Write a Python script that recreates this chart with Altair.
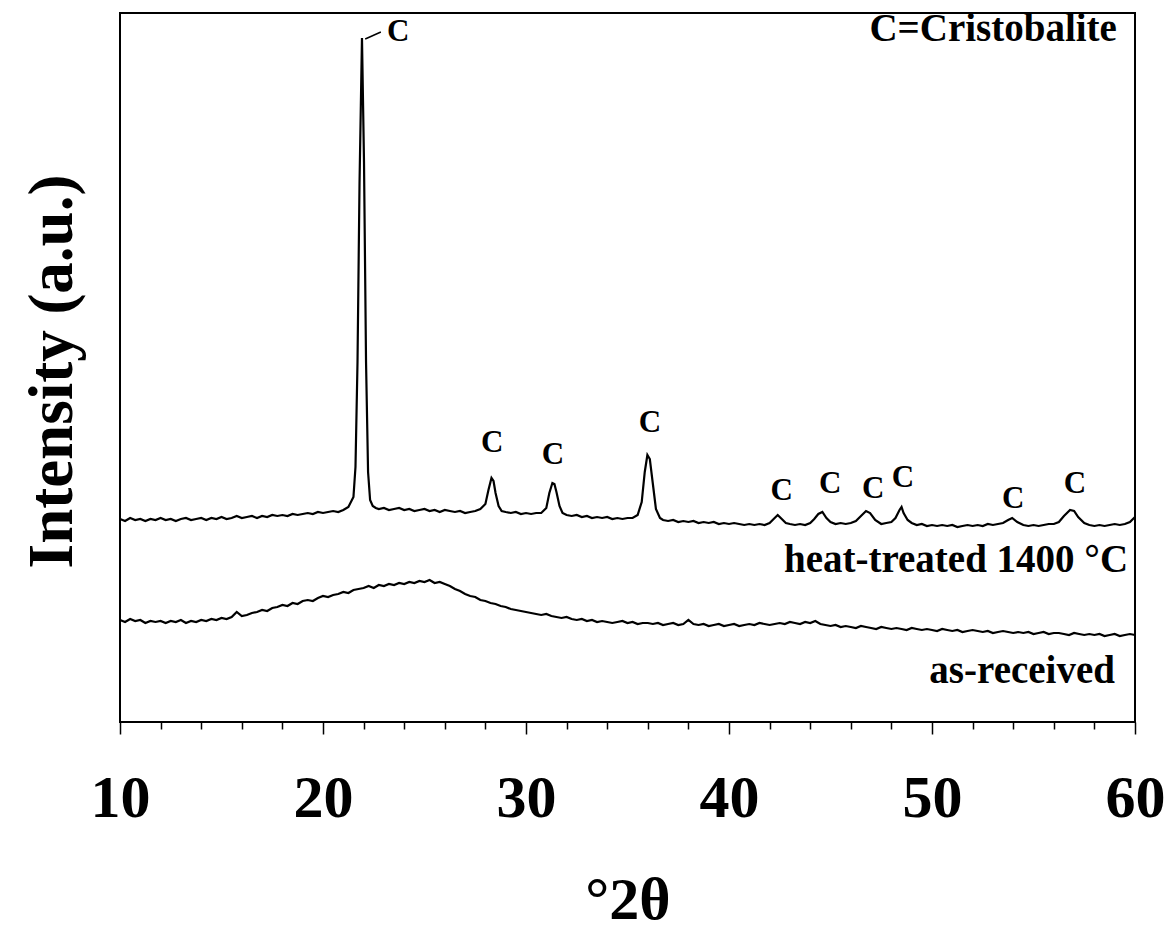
import altair as alt
import pandas as pd

# ---- heat-treated 1400 °C pattern: (2theta, intensity a.u.) ----
heat_treated = [
    (10.0, 203), (10.25, 201), (10.5, 204), (10.75, 202), (11.0, 203), (11.25, 201), (11.5, 203), (11.75, 202),
    (12.0, 204), (12.25, 202), (12.5, 203), (12.75, 201), (13.0, 203), (13.25, 204), (13.5, 202), (13.75, 203),
    (14.0, 204), (14.25, 202), (14.5, 204), (14.75, 203), (15.0, 205), (15.25, 203), (15.5, 204), (15.75, 206),
    (16.0, 204), (16.25, 205), (16.5, 206), (16.75, 204), (17.0, 206), (17.25, 205), (17.5, 207), (17.75, 206),
    (18.0, 207), (18.25, 206), (18.5, 208), (18.75, 207), (19.0, 208), (19.25, 209), (19.5, 208), (19.75, 210),
    (20.0, 209), (20.25, 210), (20.5, 211), (20.75, 210), (21.0, 212), (21.25, 215), (21.5, 225), (21.6, 255),
    (21.7, 360), (21.8, 540), (21.92, 684), (22.02, 560), (22.12, 360), (22.22, 250), (22.32, 222),
    (22.45, 216), (22.6, 214), (22.75, 213), (23.0, 214), (23.25, 212), (23.5, 213), (23.75, 214),
    (24.0, 212), (24.25, 213), (24.5, 211), (24.75, 212), (25.0, 213), (25.25, 211), (25.5, 212), (25.75, 210),
    (26.0, 212), (26.25, 211), (26.5, 210), (26.75, 211), (27.0, 209), (27.25, 210), (27.5, 211), (27.75, 213),
    (28.0, 218), (28.15, 232), (28.3, 244), (28.4, 241), (28.5, 229), (28.65, 216), (28.8, 211), (29.0, 210),
    (29.25, 209), (29.5, 210), (29.75, 208), (30.0, 209), (30.25, 208), (30.5, 209), (30.75, 209), (31.0, 214),
    (31.15, 229), (31.3, 239), (31.4, 238), (31.5, 230), (31.65, 216), (31.8, 209), (32.0, 207), (32.25, 206),
    (32.5, 207), (32.75, 205), (33.0, 206), (33.25, 204), (33.5, 205), (33.75, 204), (34.0, 205), (34.25, 203),
    (34.5, 204), (34.75, 203), (35.0, 204), (35.25, 204), (35.5, 207), (35.7, 220), (35.85, 250), (35.98, 267),
    (36.1, 263), (36.25, 238), (36.4, 213), (36.6, 204), (36.75, 202), (37.0, 201), (37.25, 202), (37.5, 200),
    (37.75, 201), (38.0, 200), (38.25, 201), (38.5, 199), (38.75, 200), (39.0, 199), (39.25, 200), (39.5, 198),
    (39.75, 199), (40.0, 198), (40.25, 199), (40.5, 198), (40.75, 197), (41.0, 198), (41.25, 197), (41.5, 198),
    (41.75, 197), (42.0, 199), (42.2, 203), (42.4, 207), (42.6, 203), (42.8, 199), (43.0, 198), (43.25, 197),
    (43.5, 198), (43.75, 197), (44.0, 199), (44.2, 203), (44.4, 208), (44.6, 210), (44.8, 204), (45.0, 200),
    (45.25, 198), (45.5, 199), (45.75, 198), (46.0, 199), (46.25, 201), (46.5, 206), (46.75, 211), (46.95, 209),
    (47.2, 202), (47.5, 198), (47.75, 199), (48.0, 200), (48.2, 204), (48.4, 212), (48.5, 215), (48.6, 209),
    (48.8, 202), (49.0, 199), (49.25, 197), (49.5, 198), (49.75, 196), (50.0, 197), (50.25, 196), (50.5, 197),
    (50.75, 196), (51.0, 197), (51.25, 195), (51.5, 196), (51.75, 197), (52.0, 196), (52.25, 197), (52.5, 196),
    (52.75, 198), (53.0, 197), (53.25, 198), (53.5, 199), (53.75, 202), (53.95, 204), (54.2, 200), (54.5, 197),
    (54.75, 196), (55.0, 197), (55.25, 196), (55.5, 197), (55.75, 198), (56.0, 198), (56.25, 200), (56.5, 206),
    (56.8, 212), (57.0, 211), (57.2, 205), (57.5, 199), (57.75, 197), (58.0, 196), (58.25, 197), (58.5, 196),
    (58.75, 197), (59.0, 198), (59.25, 197), (59.5, 198), (59.75, 200), (60.0, 205),
]

# ---- as-received pattern: scan 10..60 deg, step 0.25 deg ----
as_received_start = 10.0
as_received_step = 0.25
as_received = [
    102, 100, 103, 101, 102, 99, 101, 100, 101,
    99, 101, 100, 102, 99, 101, 100, 102,
    101, 103, 102, 104, 103, 105, 110, 106,
    107, 109, 110, 112, 111, 114, 115, 117,
    116, 119, 118, 121, 122, 121, 124, 126,
    125, 127, 128, 130, 129, 132, 133, 134,
    136, 134, 137, 136, 138, 137, 139, 138,
    140, 139, 141, 140, 142, 139, 140, 138,
    136, 133, 131, 128, 126, 125, 122, 121,
    119, 118, 116, 115, 113, 112, 111, 110,
    109, 108, 107, 108, 106, 105, 104, 105,
    103, 102, 103, 101, 102, 100, 101, 100,
    99, 100, 101, 99, 100, 98, 99, 99,
    98, 99, 97, 98, 99, 97, 98, 102,
    98, 97, 98, 96, 97, 98, 96, 97,
    98, 96, 97, 98, 97, 99, 98, 97,
    98, 99, 98, 100, 99, 98, 100, 99,
    101, 98, 97, 96, 97, 95, 96, 95,
    94, 96, 95, 94, 93, 95, 94, 93,
    94, 93, 92, 94, 93, 92, 93, 92,
    91, 93, 92, 91, 92, 90, 91, 92,
    91, 90, 91, 89, 90, 91, 90, 89,
    90, 89, 90, 88, 89, 90, 88, 89,
    89, 88, 87, 89, 88, 87, 88, 87,
    88, 86, 87, 88, 86, 87, 88, 87,
]

# ---- cristobalite peak labels ----
peak_label_2theta = [23.7, 28.33, 31.33, 36.1, 42.6, 44.98, 47.1, 48.57, 54.0, 57.04]
peak_label_intensity = [690, 279, 267, 299, 231, 238, 233, 244, 223, 238]
peak_label_text = ["C"] * len(peak_label_2theta)

# leader line for the main peak label
leader_2theta = [22.08, 22.85]
leader_intensity = [683, 690]

# annotations
note_text = ["C=Cristobalite", "heat-treated 1400 °C", "as-received"]
note_2theta = [59.11, 59.66, 59.01]
note_intensity = [681, 150, 39]

tick_values = [10, 12, 14, 16, 18, 20, 22, 24, 26, 28, 30, 32, 34, 36, 38, 40,
               42, 44, 46, 48, 50, 52, 54, 56, 58, 60]

FONT = "Liberation Serif"

rows = [{"tt": t, "I": v, "series": "heat-treated 1400 °C"} for t, v in heat_treated]
rows += [{"tt": as_received_start + i * as_received_step, "I": v, "series": "as-received"}
         for i, v in enumerate(as_received)]
lines_df = pd.DataFrame(rows)

labels_df = pd.DataFrame({"tt": peak_label_2theta, "I": peak_label_intensity, "t": peak_label_text})
leader_df = pd.DataFrame({"tt": [leader_2theta[0]], "tt2": [leader_2theta[1]],
                          "I": [leader_intensity[0]], "I2": [leader_intensity[1]]})
notes_df = pd.DataFrame({"tt": note_2theta, "I": note_intensity, "t": note_text})

xscale = alt.Scale(domain=[10, 60], nice=False, zero=False)
yscale = alt.Scale(domain=[0, 709], nice=False, zero=True)

x_enc = alt.X(
    "tt:Q", scale=xscale,
    axis=alt.Axis(
        values=tick_values, orient="bottom", domain=False, grid=False,
        tickSize={"condition": {"test": "datum.value % 10 === 0", "value": 12}, "value": 7},
        tickWidth=1.5, tickColor="black",
        labelExpr="datum.value % 10 === 0 ? datum.label : ''",
        labelFont=FONT, labelFontSize=60, labelFontWeight="bold", labelColor="black",
        labelBaseline="alphabetic", labelPadding=82, labelFlush=False, labelOverlap=False,
        title="°2θ", titleFont=FONT, titleFontSize=60, titleFontWeight="bold",
        titleColor="black", titleBaseline="alphabetic", titleY=196,
    ),
)
y_enc = alt.Y(
    "I:Q", scale=yscale,
    axis=alt.Axis(
        domain=False, ticks=False, labels=False, grid=False,
        title="Intensity (a.u.)", titleFont=FONT, titleFontSize=63, titleFontWeight="bold",
        titleColor="black", titleAngle=270, titleBaseline="alphabetic", titleAlign="center",
        titleX=-49, titleY=358,
    ),
)

lines = alt.Chart(lines_df).mark_line(color="black", strokeWidth=2.2, interpolate="linear").encode(
    x=x_enc, y=y_enc, detail="series:N"
)

peak_labels = alt.Chart(labels_df).mark_text(
    font=FONT, fontSize=31, fontWeight="bold", color="black", align="center", baseline="middle"
).encode(x=alt.X("tt:Q"), y=alt.Y("I:Q"), text="t:N")

leader = alt.Chart(leader_df).mark_rule(color="black", strokeWidth=1.5).encode(
    x=alt.X("tt:Q"), x2="tt2:Q", y=alt.Y("I:Q"), y2="I2:Q"
)

notes = alt.Chart(notes_df).mark_text(
    font=FONT, fontSize=39, fontWeight="bold", color="black", align="right", baseline="alphabetic"
).encode(x=alt.X("tt:Q"), y=alt.Y("I:Q"), text="t:N")

chart = alt.layer(lines, peak_labels, leader, notes).properties(
    width=1015, height=709,
    autosize=alt.AutoSizeParams(type="none"),
    padding={"left": 120, "top": 13, "right": 36, "bottom": 206},
    background="white",
).configure_view(stroke="black", strokeWidth=2)

chart.save("out.html", embed_options={"renderer": "svg", "actions": False})
